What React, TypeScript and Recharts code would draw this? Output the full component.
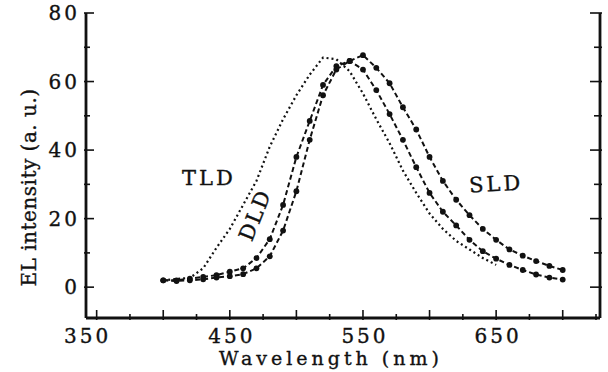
import React from 'react'
import { LineChart, Line, XAxis, YAxis } from 'recharts'

// EL spectra of the three devices (nm, a.u.)
const wavelengths = [
  400, 410, 420, 430, 440, 450, 460, 470, 480, 490, 500, 510, 520, 530, 540, 550,
  560, 570, 580, 590, 600, 610, 620, 630, 640, 650, 660, 670, 680, 690, 700,
]
const tldIntensity = [
  2, 2.4, 2.7, 5.5, 11.5, 17, 24, 31, 41, 49, 56, 62, 67, 66.5, 63, 56.5,
  49, 42, 34, 27.5, 21.5, 17, 13.5, 11, 8.5, 6.5, null, null, null, null, null,
]
const dldIntensity = [
  2, 2, 2.5, 3, 3.5, 4.5, 5.5, 8.5, 14, 24, 38, 48.5, 59, 64.5, 66, 63.5,
  57.5, 50.5, 43, 35, 27.5, 22, 18, 13.8, 10.5, 8.3, 6.5, 5, 3.7, 2.8, 2.2,
]
const sldIntensity = [
  2, 1.8, 2, 2.3, 2.8, 3.2, 3.8, 5.5, 9, 16.5, 28, 43, 56, 63.5, 66, 67.7,
  64, 59.5, 52.5, 46, 38, 31, 25.5, 21, 17, 13.8, 11, 9.2, 7.6, 6.2, 5,
]

const xTicks = [350, 375, 400, 425, 450, 475, 500, 525, 550, 575, 600, 625, 650, 675, 700, 725]
const xLabelTicks = [350, 450, 550, 650]
const yTicks = [0, 10, 20, 30, 40, 50, 60, 70, 80]
const yLabelTicks = [0, 20, 40, 60, 80]

const data = wavelengths.map((w, i) => ({
  wl: w,
  tld: tldIntensity[i],
  dld: dldIntensity[i],
  sld: sldIntensity[i],
}))

const INK = '#111'
const FONT = '"DejaVu Serif", serif'
// scanned text looks a bit heavier than the plain face
const textInk = { fill: INK, stroke: INK, strokeWidth: 0.35, fontFamily: FONT }

function BottomTick({ x, y, payload }: any) {
  const v = payload.value
  // first label sits a little left of its tick in the original
  const shift = v === 350 ? -9 : 2
  return (
    <g>
      <line x1={x} x2={x} y1={y} y2={y - (v % 50 === 0 ? 10 : 6)} stroke={INK} strokeWidth={1.6} />
      {xLabelTicks.includes(v) && (
        <text x={x + shift} y={y + 23} textAnchor="middle" fontSize={20} letterSpacing={3} {...textInk}>
          {v}
        </text>
      )}
    </g>
  )
}

function TopTick({ x, y, payload }: any) {
  const v = payload.value
  return <line x1={x} x2={x} y1={y} y2={y + (v % 50 === 0 ? 10 : 6)} stroke={INK} strokeWidth={1.6} />
}

function LeftTick({ x, y, payload }: any) {
  const v = payload.value
  return (
    <g>
      <line x1={x} x2={x + (v % 20 === 0 ? 10 : 6)} y1={y} y2={y} stroke={INK} strokeWidth={1.6} />
      {yLabelTicks.includes(v) && (
        <text x={x - 4} y={y} dy="0.36em" textAnchor="end" fontSize={20} letterSpacing={3} {...textInk}>
          {v}
        </text>
      )}
    </g>
  )
}

function RightTick({ x, y, payload }: any) {
  const v = payload.value
  return <line x1={x} x2={x - (v % 20 === 0 ? 12 : 8)} y1={y} y2={y} stroke={INK} strokeWidth={1.6} />
}

export default function App() {
  return (
    <div style={{ position: 'absolute', left: 0, top: 0, width: 608, height: 372, background: '#fff' }}>
      <LineChart width={608} height={372} data={data} margin={{ top: 13, right: 0, bottom: 0, left: 0 }}>
        <XAxis
          dataKey="wl"
          type="number"
          domain={[342, 728]}
          ticks={xTicks}
          interval={0}
          allowDataOverflow
          height={54}
          tickSize={0}
          tickLine={false}
          tick={<BottomTick />}
          axisLine={{ stroke: INK, strokeWidth: 2.8 }}
          label={{
            content: ({ viewBox }: any) => (
              <text
                x={viewBox.x + viewBox.width / 2 - 12}
                y={viewBox.y + 47}
                textAnchor="middle"
                fontSize={19}
                letterSpacing={4}
                {...textInk}
              >
                Wavelength (nm)
              </text>
            ),
          }}
        />
        <XAxis
          xAxisId="top"
          orientation="top"
          dataKey="wl"
          type="number"
          domain={[342, 728]}
          ticks={xTicks}
          interval={0}
          allowDataOverflow
          height={0}
          tickSize={0}
          tickLine={false}
          tick={<TopTick />}
          axisLine={{ stroke: INK, strokeWidth: 2.8 }}
        />
        <YAxis
          type="number"
          domain={[-9, 80]}
          ticks={yTicks}
          interval={0}
          allowDataOverflow
          width={86}
          tickSize={0}
          tickLine={false}
          tick={<LeftTick />}
          axisLine={{ stroke: INK, strokeWidth: 2.8 }}
          label={{
            content: ({ viewBox }: any) => {
              const cx = 29
              const cy = viewBox.y + viewBox.height / 2 + 22
              return (
                <text
                  x={cx}
                  y={cy}
                  dy="0.35em"
                  textAnchor="middle"
                  transform={`rotate(-90 ${cx} ${cy})`}
                  fontSize={20}
                  letterSpacing={0.5}
                  {...textInk}
                >
                  EL intensity (a. u.)
                </text>
              )
            },
          }}
        />
        <YAxis
          yAxisId="right"
          orientation="right"
          type="number"
          domain={[-9, 80]}
          ticks={yTicks}
          interval={0}
          allowDataOverflow
          width={8}
          tickSize={0}
          tickLine={false}
          tick={<RightTick />}
          axisLine={{ stroke: INK, strokeWidth: 2.8 }}
        />
        <Line
          dataKey="tld"
          stroke={INK}
          strokeWidth={2.2}
          strokeDasharray="2 3"
          dot={false}
          connectNulls={false}
          isAnimationActive={false}
        />
        <Line
          dataKey="dld"
          stroke={INK}
          strokeWidth={2}
          strokeDasharray="5 3"
          dot={{ r: 2.9, fill: INK, stroke: 'none' }}
          isAnimationActive={false}
        />
        <Line
          dataKey="sld"
          stroke={INK}
          strokeWidth={2}
          strokeDasharray="5 3"
          dot={{ r: 2.9, fill: INK, stroke: 'none' }}
          isAnimationActive={false}
        />
      </LineChart>
      <svg width={608} height={372} style={{ position: 'absolute', left: 0, top: 0, pointerEvents: 'none' }}>
        <text x={182} y={185} fontSize={21} letterSpacing={3} {...textInk}>
          TLD
        </text>
        <text
          x={255}
          y={215}
          dy="0.35em"
          textAnchor="middle"
          transform="rotate(-68 255 215)"
          fontSize={21}
          letterSpacing={2}
          {...textInk}
        >
          DLD
        </text>
        <text x={469} y={191} fontSize={21} letterSpacing={3} transform="rotate(-3 498 183)" {...textInk}>
          SLD
        </text>
      </svg>
    </div>
  )
}
